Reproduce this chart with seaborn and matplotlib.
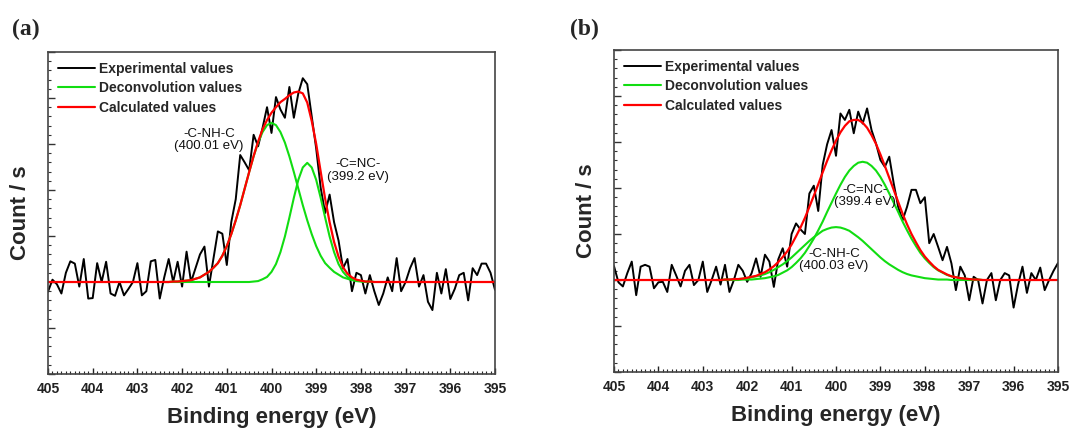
import numpy as np
import seaborn as sns
import matplotlib.pyplot as plt
from matplotlib.ticker import MultipleLocator

# ---- data (binding energy in eV, intensity in arbitrary count units) ----
energy_exp = np.linspace(405.0, 395.0, 101)      # 0.1 eV step

counts_a = [1.79, 2.05, 1.95, 1.75, 2.20, 2.45, 2.40, 1.90, 2.50, 1.64,
            1.65, 2.41, 2.00, 2.44, 1.75, 1.70, 2.00, 1.71, 1.85, 2.00,
            2.41, 1.71, 1.80, 2.45, 2.48, 1.64, 2.10, 2.50, 2.00, 2.44,
            1.90, 2.66, 2.00, 2.30, 2.60, 2.77, 1.90, 2.50, 3.10, 3.05,
            2.37, 3.30, 3.80, 4.76, 4.60, 4.43, 5.20, 4.95, 5.35, 5.80,
            5.24, 6.02, 5.75, 5.57, 6.24, 5.57, 6.10, 6.43, 6.30, 5.60,
            4.90, 4.05, 3.50, 3.90, 3.30, 2.90, 2.30, 2.50, 1.80, 2.20,
            2.15, 1.75, 2.15, 1.80, 1.50, 1.75, 2.10, 1.80, 2.52, 1.80,
            2.00, 2.30, 2.52, 1.90, 2.15, 1.57, 1.39, 2.20, 1.75, 2.28,
            1.63, 1.85, 2.15, 2.20, 1.60, 2.30, 2.15, 2.40, 2.40, 2.20,
            1.83]

counts_b = [2.30, 1.95, 1.86, 2.15, 2.40, 1.67, 2.29, 2.33, 2.29, 1.82,
            1.95, 1.96, 1.74, 2.33, 2.10, 1.86, 2.20, 2.33, 1.89, 2.00,
            2.40, 1.74, 2.00, 2.29, 1.90, 2.33, 1.74, 2.00, 2.33, 2.20,
            1.96, 2.15, 2.47, 2.07, 2.55, 2.40, 1.85, 2.45, 2.69, 2.29,
            3.00, 3.23, 3.10, 3.00, 3.88, 4.05, 3.50, 4.50, 4.95, 5.26,
            4.70, 5.62, 5.48, 5.70, 5.19, 5.66, 5.40, 5.73, 5.26, 4.97,
            4.61, 4.46, 4.68, 4.10, 3.59, 3.30, 3.59, 3.96, 3.96, 3.67,
            3.80, 2.80, 3.00, 2.72, 2.43, 2.72, 2.36, 1.78, 2.29, 2.10,
            1.56, 2.07, 2.00, 1.49, 2.00, 2.15, 1.56, 2.00, 2.15, 2.10,
            1.40, 1.90, 2.29, 1.72, 2.15, 2.00, 2.27, 1.78, 2.00, 2.20,
            2.37]

# fitted curves, panel (a): 402.4 -> 397.7 eV
energy_fit_a = np.linspace(402.4, 397.7, 48)
cnhc_a = [2.00, 2.00, 2.01, 2.01, 2.02, 2.03, 2.04, 2.07, 2.10, 2.16,
          2.22, 2.31, 2.41, 2.57, 2.78, 3.04, 3.34, 3.67, 4.03, 4.39,
          4.73, 5.03, 5.26, 5.41, 5.46, 5.41, 5.26, 5.03, 4.73, 4.39,
          4.03, 3.67, 3.34, 3.04, 2.78, 2.57, 2.41, 2.31, 2.22, 2.16,
          2.10, 2.07, 2.04, 2.03, 2.02, 2.01, 2.01, 2.00]
cnc_a = [2.00, 2.00, 2.00, 2.00, 2.00, 2.00, 2.00, 2.00, 2.00, 2.00,
         2.00, 2.00, 2.00, 2.00, 2.00, 2.00, 2.00, 2.00, 2.00, 2.00,
         2.01, 2.02, 2.06, 2.11, 2.22, 2.39, 2.65, 2.99, 3.40, 3.83,
         4.22, 4.49, 4.59, 4.49, 4.22, 3.83, 3.40, 2.99, 2.65, 2.39,
         2.22, 2.11, 2.06, 2.02, 2.01, 2.00, 2.00, 2.00]
calc_a = [2.00, 2.00, 2.01, 2.01, 2.02, 2.03, 2.04, 2.07, 2.10, 2.16,
          2.22, 2.31, 2.41, 2.57, 2.78, 3.04, 3.34, 3.67, 4.03, 4.39,
          4.74, 5.05, 5.32, 5.52, 5.68, 5.80, 5.91, 5.98, 6.06, 6.12,
          6.14, 6.10, 5.90, 5.50, 5.00, 4.40, 3.81, 3.30, 2.87, 2.55,
          2.32, 2.18, 2.10, 2.05, 2.03, 2.01, 2.01, 2.00]

# fitted curves, panel (b): 402.7 -> 396.7 eV
energy_fit_b = np.linspace(402.7, 396.7, 61)
cnhc_b = [2.00, 2.00, 2.01, 2.01, 2.01, 2.02, 2.03, 2.04, 2.06, 2.08,
          2.10, 2.13, 2.17, 2.22, 2.28, 2.34, 2.41, 2.49, 2.58, 2.67,
          2.76, 2.85, 2.93, 3.00, 3.07, 3.11, 3.14, 3.15, 3.14, 3.11,
          3.07, 3.00, 2.93, 2.85, 2.76, 2.67, 2.58, 2.49, 2.41, 2.34,
          2.28, 2.22, 2.17, 2.13, 2.10, 2.08, 2.06, 2.04, 2.03, 2.02,
          2.01, 2.01, 2.01, 2.00, 2.00, 2.00, 2.00, 2.00, 2.00, 2.00,
          2.00]
cnc_b = [2.00, 2.00, 2.00, 2.00, 2.00, 2.00, 2.01, 2.01, 2.01, 2.02,
         2.03, 2.04, 2.06, 2.08, 2.11, 2.16, 2.21, 2.28, 2.37, 2.47,
         2.59, 2.74, 2.90, 3.08, 3.27, 3.48, 3.68, 3.88, 4.07, 4.24,
         4.38, 4.48, 4.55, 4.57, 4.55, 4.48, 4.38, 4.24, 4.07, 3.88,
         3.68, 3.48, 3.27, 3.08, 2.90, 2.74, 2.59, 2.47, 2.37, 2.28,
         2.21, 2.16, 2.11, 2.08, 2.06, 2.04, 2.03, 2.02, 2.01, 2.01,
         2.00]
calc_b = [2.00, 2.00, 2.01, 2.01, 2.02, 2.02, 2.03, 2.05, 2.07, 2.09,
          2.13, 2.17, 2.23, 2.30, 2.39, 2.50, 2.62, 2.77, 2.95, 3.14,
          3.35, 3.59, 3.83, 4.08, 4.34, 4.59, 4.82, 5.03, 5.21, 5.35,
          5.45, 5.48, 5.48, 5.42, 5.31, 5.15, 4.96, 4.73, 4.48, 4.22,
          3.96, 3.70, 3.44, 3.21, 3.00, 2.82, 2.65, 2.51, 2.40, 2.30,
          2.22, 2.17, 2.12, 2.08, 2.06, 2.04, 2.03, 2.02, 2.01, 2.01,
          2.00]

baseline = 2.0
x_ticks = [405, 404, 403, 402, 401, 400, 399, 398, 397, 396, 395]
legend_labels = ["Experimental values", "Deconvolution values", "Calculated values"]

# annotations: (text, x, y)
notes_a = [("-C-NH-C\n(400.01 eV)", 401.40, 5.09),
           ("-C=NC-\n(399.2 eV)", 398.06, 4.42)]
notes_b = [("-C=NC-\n(399.4 eV)", 399.35, 3.83),
           ("-C-NH-C\n(400.03 eV)", 400.05, 2.43)]

# ---- style ----
sns.set_style("white")
plt.rcParams['font.family'] = ['Liberation Sans', 'DejaVu Sans']

black = "#000000"
green = "#11dd11"
red = "#ff0000"

fig = plt.figure(figsize=(10.87, 4.3), dpi=100)
ax_a = fig.add_axes([48 / 1087, 1 - 374 / 430, 447 / 1087, 322 / 430])
ax_b = fig.add_axes([614 / 1087, 1 - 372 / 430, 444 / 1087, 322 / 430])


def draw_panel(ax, counts, e_fit, comp1, comp2, calc, notes):
    # red fit is flat on the baseline outside the fitted window
    e_red = [405.0] + list(e_fit) + [395.0]
    y_red = [baseline] + list(calc) + [baseline]

    sns.lineplot(x=energy_exp, y=counts, ax=ax, color=black, lw=1.4,
                 label=legend_labels[0])
    sns.lineplot(x=e_fit, y=comp1, ax=ax, color=green, lw=1.5,
                 label=legend_labels[1])
    sns.lineplot(x=e_fit, y=comp2, ax=ax, color=green, lw=1.5)
    sns.lineplot(x=e_red, y=y_red, ax=ax, color=red, lw=1.6,
                 label=legend_labels[2])

    ax.set_xlim(405, 395)
    ax.set_ylim(0, 7)
    ax.set_xticks(x_ticks)
    ax.set_xticklabels([str(t) for t in x_ticks], fontweight='bold')
    ax.xaxis.set_minor_locator(MultipleLocator(0.1))
    ax.yaxis.set_major_locator(MultipleLocator(1))
    ax.yaxis.set_minor_locator(MultipleLocator(0.2))
    ax.set_yticklabels([])

    ax.tick_params(axis='x', which='both', direction='in', bottom=True, top=False,
                   labelsize=10, pad=6, colors='#222222')
    ax.tick_params(axis='x', which='major', length=4.5, width=1)
    ax.tick_params(axis='x', which='minor', length=2, width=0.8)
    ax.tick_params(axis='y', which='both', direction='in', left=True, right=False,
                   labelleft=False, colors='#333333')
    ax.tick_params(axis='y', which='major', length=5, width=1)
    ax.tick_params(axis='y', which='minor', length=2.5, width=0.8)

    for spine in ax.spines.values():
        spine.set_edgecolor("#444444")
        spine.set_linewidth(1.2)

    ax.set_xlabel("Binding energy (eV)", fontsize=16, fontweight='bold', labelpad=8)
    ax.set_ylabel("Count / s", fontsize=16, fontweight='bold', labelpad=12)

    for txt, x, y in notes:
        ax.text(x, y, txt, fontsize=9.5, ha='center', va='center',
                multialignment='center', linespacing=1.05, color='#111111')

    ax.legend(loc='upper left', frameon=False, handlelength=2.7,
              handletextpad=0.3, labelspacing=0.4, borderaxespad=0.3,
              prop={'weight': 'bold', 'size': 10})


draw_panel(ax_a, counts_a, energy_fit_a, cnhc_a, cnc_a, calc_a, notes_a)
draw_panel(ax_b, counts_b, energy_fit_b, cnhc_b, cnc_b, calc_b, notes_b)

# panel letters
fig.text(12 / 1087, 1 - 29 / 430, "(a)", family='Liberation Serif',
         fontweight='bold', fontsize=17, va='center')
fig.text(570 / 1087, 1 - 29 / 430, "(b)", family='Liberation Serif',
         fontweight='bold', fontsize=17, va='center')

plt.savefig('out.png', dpi=100)
